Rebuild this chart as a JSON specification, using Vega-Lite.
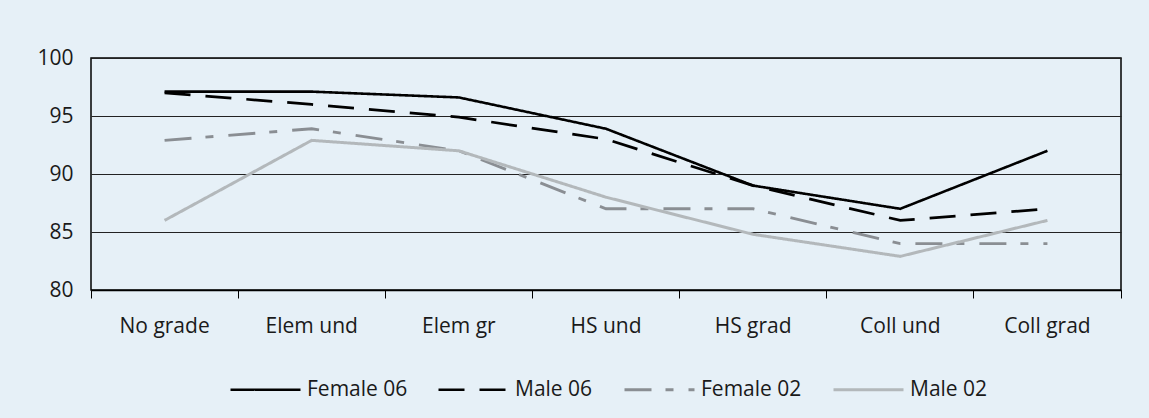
{
  "$schema": "https://vega.github.io/schema/vega-lite/v6.json",
  "width": 1030,
  "height": 232,
  "autosize": {"type": "none"},
  "padding": {"left": 91, "top": 58, "right": 28, "bottom": 128},
  "background": "#e6f0f7",
  "config": {
    "font": "Open Sans",
    "view": {"stroke": "#000000", "strokeWidth": 1.5},
    "axis": {"labelFont": "Open Sans", "labelFontSize": 21, "labelColor": "#1a1a1a"}
  },
  "data": {
    "values": [
      {"edu": "No grade", "series": "Female 06", "value": 97.1},
      {"edu": "Elem und", "series": "Female 06", "value": 97.1},
      {"edu": "Elem gr", "series": "Female 06", "value": 96.6},
      {"edu": "HS und", "series": "Female 06", "value": 93.9},
      {"edu": "HS grad", "series": "Female 06", "value": 89.0},
      {"edu": "Coll und", "series": "Female 06", "value": 87.0},
      {"edu": "Coll grad", "series": "Female 06", "value": 92.0},
      {"edu": "No grade", "series": "Male 06", "value": 97.0},
      {"edu": "Elem und", "series": "Male 06", "value": 96.0},
      {"edu": "Elem gr", "series": "Male 06", "value": 94.9},
      {"edu": "HS und", "series": "Male 06", "value": 93.0},
      {"edu": "HS grad", "series": "Male 06", "value": 89.0},
      {"edu": "Coll und", "series": "Male 06", "value": 86.0},
      {"edu": "Coll grad", "series": "Male 06", "value": 87.0},
      {"edu": "No grade", "series": "Female 02", "value": 92.9},
      {"edu": "Elem und", "series": "Female 02", "value": 93.9},
      {"edu": "Elem gr", "series": "Female 02", "value": 92.0},
      {"edu": "HS und", "series": "Female 02", "value": 87.0},
      {"edu": "HS grad", "series": "Female 02", "value": 87.0},
      {"edu": "Coll und", "series": "Female 02", "value": 84.0},
      {"edu": "Coll grad", "series": "Female 02", "value": 84.0},
      {"edu": "No grade", "series": "Male 02", "value": 86.0},
      {"edu": "Elem und", "series": "Male 02", "value": 92.9},
      {"edu": "Elem gr", "series": "Male 02", "value": 92.0},
      {"edu": "HS und", "series": "Male 02", "value": 88.0},
      {"edu": "HS grad", "series": "Male 02", "value": 84.8},
      {"edu": "Coll und", "series": "Male 02", "value": 82.9},
      {"edu": "Coll grad", "series": "Male 02", "value": 86.0}
    ]
  },
  "mark": {"type": "line", "strokeCap": "butt"},
  "encoding": {
    "x": {
      "field": "edu",
      "type": "nominal",
      "sort": ["No grade", "Elem und", "Elem gr", "HS und", "HS grad", "Coll und", "Coll grad"],
      "scale": {"type": "band", "paddingInner": 0, "paddingOuter": 0},
      "axis": {
        "title": null,
        "labelAngle": 0,
        "bandPosition": 1,
        "tickExtra": true,
        "ticks": true,
        "tickSize": 8,
        "tickColor": "#000000",
        "tickWidth": 1,
        "domain": true,
        "domainColor": "#000000",
        "domainWidth": 1.5,
        "grid": false,
        "labelPadding": 17,
        "labelFlush": false
      }
    },
    "y": {
      "field": "value",
      "type": "quantitative",
      "scale": {"domain": [80, 100], "nice": false, "zero": false},
      "axis": {
        "title": null,
        "values": [80, 85, 90, 95, 100],
        "ticks": false,
        "tickSize": 0,
        "domain": false,
        "grid": true,
        "gridColor": "#222222",
        "gridWidth": 1,
        "gridOpacity": 1,
        "labelPadding": 18
      }
    },
    "color": {
      "field": "series",
      "type": "nominal",
      "sort": ["Female 06", "Male 06", "Female 02", "Male 02"],
      "scale": {
        "domain": ["Female 06", "Male 06", "Female 02", "Male 02"],
        "range": ["#000000", "#000000", "#8a8e93", "#b3b8bb"]
      },
      "legend": {
        "title": null,
        "orient": "none",
        "direction": "horizontal",
        "columns": 4,
        "legendX": 138,
        "legendY": 295,
        "symbolType": "stroke",
        "symbolSize": 4900,
        "labelFontSize": 21,
        "labelFont": "Open Sans",
        "labelColor": "#1a1a1a",
        "labelOffset": 5,
        "columnPadding": 25
      }
    },
    "strokeDash": {
      "field": "series",
      "type": "nominal",
      "sort": ["Female 06", "Male 06", "Female 02", "Male 02"],
      "scale": {
        "domain": ["Female 06", "Male 06", "Female 02", "Male 02"],
        "range": [[1, 0], [26, 15], [27, 14, 8, 15], [1, 0]]
      },
      "legend": null
    },
    "strokeWidth": {
      "field": "series",
      "type": "nominal",
      "sort": ["Female 06", "Male 06", "Female 02", "Male 02"],
      "scale": {
        "domain": ["Female 06", "Male 06", "Female 02", "Male 02"],
        "range": [2.6, 3, 3.5, 3.5]
      },
      "legend": null
    }
  }
}
